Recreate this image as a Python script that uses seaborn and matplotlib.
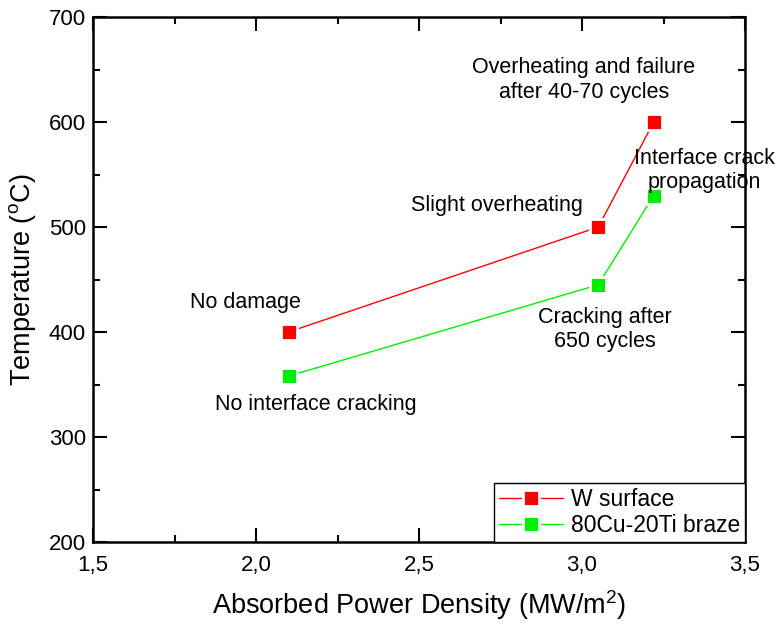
import matplotlib
matplotlib.use("Agg")
import matplotlib.pyplot as plt
import matplotlib.ticker as mticker
import seaborn as sns
import pandas as pd

# data
power = [2.10, 3.05, 3.22]
w_surface = [400, 500, 600]
braze = [358, 445, 530]
series_names = ["W surface", "80Cu-20Ti braze"]
annotations = [
    ("Overheating and failure\nafter 40-70 cycles", 3.006, 640),
    ("Interface crack\npropagation", 3.375, 554),
    ("Slight overheating", 2.739, 520),
    ("No damage", 1.969, 428),
    ("Cracking after\n650 cycles", 3.071, 402),
    ("No interface cracking", 2.184, 331),
]

sns.set_theme(style="ticks")
plt.rcParams['font.family'] = ['Liberation Sans', 'DejaVu Sans']
plt.rcParams['mathtext.fontset'] = 'custom'
plt.rcParams['mathtext.rm'] = 'Liberation Sans'
plt.rcParams['mathtext.it'] = 'Liberation Sans'
plt.rcParams['text.color'] = 'black'
plt.rcParams['axes.labelcolor'] = 'black'

df = pd.DataFrame({
    "x": power * 2,
    "y": w_surface + braze,
    "series": [series_names[0]] * len(power) + [series_names[1]] * len(power),
})

fig = plt.figure(figsize=(7.83, 6.24), dpi=100)
ax = fig.add_axes([93/783, 1-542/624, (745-93)/783, (542-17)/624])

palette = {series_names[0]: "#ff0000", series_names[1]: "#00ee00"}
sns.lineplot(data=df, x="x", y="y", hue="series", palette=palette, marker="s",
             markersize=11, markeredgecolor="white", markeredgewidth=2,
             linewidth=1, ax=ax, sort=False)

ax.set_xlim(1.5, 3.5)
ax.set_ylim(200, 700)
ax.xaxis.set_major_locator(mticker.MultipleLocator(0.5))
ax.xaxis.set_minor_locator(mticker.MultipleLocator(0.25))
ax.yaxis.set_major_locator(mticker.MultipleLocator(100))
ax.yaxis.set_minor_locator(mticker.MultipleLocator(50))
ax.xaxis.set_major_formatter(mticker.FuncFormatter(lambda v, p: f"{v:.1f}".replace('.', ',')))
ax.tick_params(which="both", direction="in", top=True, right=True, width=1.5,
               labelsize=16, colors="black")
ax.tick_params(which="major", length=10)
ax.tick_params(axis="x", which="major", pad=9)
ax.tick_params(axis="y", which="major", pad=5)
ax.tick_params(which="minor", length=5)
for s in ax.spines.values():
    s.set_linewidth(1.8)
    s.set_color("black")

ax.set_xlabel("Absorbed Power Density (MW/m$^2$)", fontsize=19.5, labelpad=9)
ax.set_ylabel("Temperature ($^{\\mathrm{o}}$C)", fontsize=19.5, labelpad=8)

for txt, x, y in annotations:
    ax.text(x, y, txt, ha="center", va="center", fontsize=15.5, linespacing=1.2,
            clip_on=False, color="black")

leg = ax.legend(loc="lower right", borderaxespad=0, fancybox=False, edgecolor="black",
                framealpha=1, fontsize=16.5, handlelength=2.8, handletextpad=0.35,
                borderpad=0.2, labelspacing=0.15)
leg.get_frame().set_linewidth(1)

fig.savefig("out.png", dpi=100)
